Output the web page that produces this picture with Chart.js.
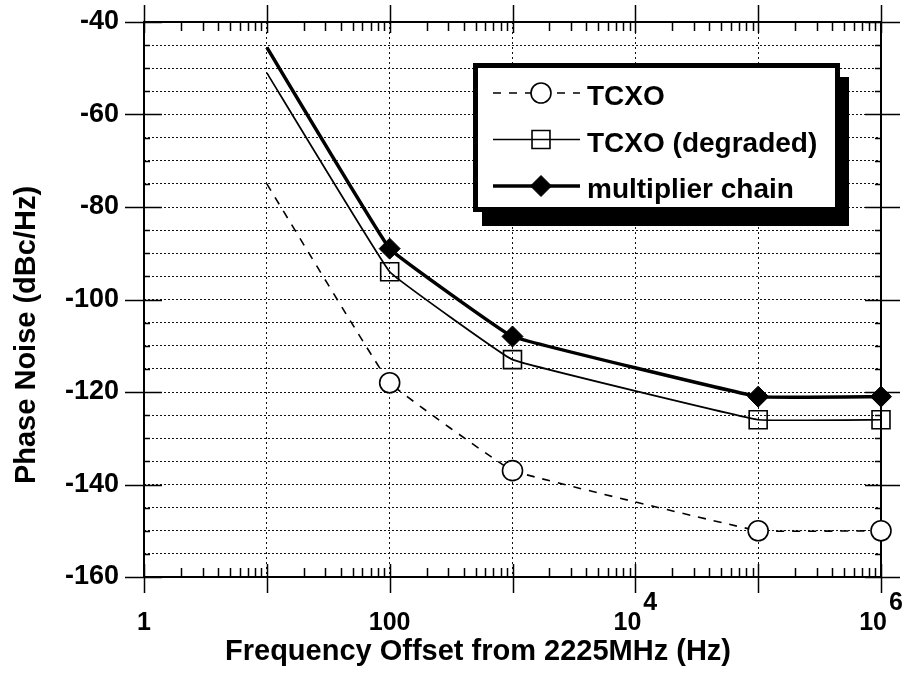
<!DOCTYPE html>
<html lang="en">
<head>
<meta charset="utf-8">
<title>Phase Noise vs Frequency Offset</title>
<script src="https://cdn.jsdelivr.net/npm/chart.js@4.4.1/dist/chart.umd.min.js"></script>
<style>
    html, body { margin: 0; padding: 0; background: #ffffff; }
    canvas { display: block; }
</style>
</head>
<body>
<canvas id="noiseChart" width="903" height="683"></canvas>
<script>
// Offset frequencies in Hz (first point only starts each curve, no marker there)
const offsets = [10, 100, 1000, 100000, 1000000];

// Phase noise in dBc/Hz
const tcxoNoise = [-75, -118, -137, -150, -150];
const degradedNoise = [-51, -94, -113, -126, -126];
const chainNoise = [-45.5, -89, -108, -121, -121];

const seriesLabels = ['TCXO', 'TCXO (degraded)', 'multiplier chain'];

// Axis ticks and labels
const decades = [1, 10, 100, 1e3, 1e4, 1e5, 1e6];
const xLabelValues = [1, 100, 1e4, 1e6];
const xLabelBase = ['1', '100', '10', '10'];
const xLabelExp = ['', '', '4', '6'];
const yMin = -160;
const yMax = -40;
const yStep = 5;
const yLabelStep = 20;

const xTitle = 'Frequency Offset from 2225MHz (Hz)';
const yTitle = 'Phase Noise (dBc/Hz)';

const FONT = '"Liberation Sans", Arial, Helvetica, sans-serif';

function points(values) {
    return offsets.map((x, i) => ({ x: x, y: values[i] }));
}

// Marker radius per point, nothing drawn on the starting point
function markerSizes(r) {
    return offsets.map((x, i) => (i === 0 ? 0 : r));
}

// Box frame with log ticks on top/bottom and dB ticks on left/right
const axisFrame = {
    id: 'axisFrame',
    beforeDatasetsDraw(chart) {
        const { ctx, chartArea: a, scales: { x, y } } = chart;
        ctx.save();
        ctx.strokeStyle = '#000';
        ctx.lineWidth = 2;
        ctx.strokeRect(a.left, a.top, a.right - a.left, a.bottom - a.top);

        ctx.lineWidth = 1.5;
        ctx.beginPath();
        const seg = (x1, y1, x2, y2) => { ctx.moveTo(x1, y1); ctx.lineTo(x2, y2); };
        decades.forEach(d => {
            const px = Math.round(x.getPixelForValue(d)) + 0.5;
            seg(px, a.bottom - 13, px, a.bottom + 16);
            seg(px, a.top - 17, px, a.top + 11);
            if (d < 1e6) {
                for (let m = 2; m <= 9; m++) {
                    const mx = Math.round(x.getPixelForValue(d * m)) + 0.5;
                    seg(mx, a.bottom - 9, mx, a.bottom);
                    seg(mx, a.top, mx, a.top + 9);
                }
            }
        });
        for (let v = yMin; v <= yMax; v += yStep) {
            const py = Math.round(y.getPixelForValue(v)) + 0.5;
            if (v % yLabelStep === 0) {
                seg(a.left - 19, py, a.left + 18, py);
                seg(a.right - 16, py, a.right + 19, py);
            } else {
                seg(a.left, py, a.left + 6, py);
                seg(a.right - 6, py, a.right, py);
            }
        }
        ctx.stroke();
        ctx.restore();
    }
};

// Decade labels with raised exponents, and both axis titles
const axisText = {
    id: 'axisText',
    afterDraw(chart) {
        const { ctx, chartArea: a, scales: { x } } = chart;
        ctx.save();
        ctx.fillStyle = '#000';
        ctx.textBaseline = 'alphabetic';
        ctx.textAlign = 'left';
        ctx.font = 'bold 25px ' + FONT;
        xLabelValues.forEach((v, i) => {
            const px = x.getPixelForValue(v);
            const base = ctx.measureText(xLabelBase[i]);
            const exp = xLabelExp[i] ? ctx.measureText(xLabelExp[i]) : null;
            const gap = exp ? 2 : 0;
            const total = base.width + gap + (exp ? exp.width : 0);
            const left = px - total / 2;
            ctx.fillText(xLabelBase[i], left, a.bottom + 53);
            if (exp) {
                ctx.fillText(xLabelExp[i], left + base.width + gap, a.bottom + 33);
            }
        });

        ctx.font = 'bold 29px ' + FONT;
        ctx.textAlign = 'center';
        ctx.fillText(xTitle, 478, 660);

        ctx.translate(35, 335);
        ctx.rotate(-Math.PI / 2);
        ctx.fillText(yTitle, 0, 0);
        ctx.restore();
    }
};

// Framed legend with a heavy drop shadow
const shadowLegend = {
    id: 'shadowLegend',
    afterDraw(chart) {
        const { ctx } = chart;
        const box = { x: 473, y: 63, w: 367, h: 149 };
        ctx.save();
        ctx.fillStyle = '#000';
        ctx.fillRect(box.x + 9, box.y + 14, box.w, box.h);
        ctx.fillStyle = '#fff';
        ctx.fillRect(box.x, box.y, box.w, box.h);
        ctx.strokeStyle = '#000';
        ctx.lineWidth = 5;
        ctx.strokeRect(box.x + 2.5, box.y + 2.5, box.w - 5, box.h - 5);

        chart.data.datasets.forEach((ds, i) => {
            const cy = 93 + i * 46.5;
            ctx.strokeStyle = '#000';
            ctx.lineWidth = ds.borderWidth;
            ctx.setLineDash(ds.borderDash || []);
            ctx.beginPath();
            ctx.moveTo(493, cy);
            ctx.lineTo(580, cy);
            ctx.stroke();
            ctx.setLineDash([]);

            ctx.fillStyle = ds.pointBackgroundColor;
            ctx.lineWidth = ds.pointBorderWidth;
            Chart.helpers.drawPoint(ctx, {
                pointStyle: ds.pointStyle,
                rotation: 0,
                radius: ds.pointRadius[1],
                borderWidth: ds.pointBorderWidth
            }, 541, cy);

            ctx.fillStyle = '#000';
            ctx.font = 'bold 28px ' + FONT;
            ctx.textAlign = 'left';
            ctx.textBaseline = 'alphabetic';
            ctx.fillText(ds.label, 587, cy + 12);
        });
        ctx.restore();
    }
};

const ctx = document.getElementById('noiseChart').getContext('2d');

new Chart(ctx, {
    type: 'line',
    data: {
        datasets: [
            {
                label: seriesLabels[0],
                data: points(tcxoNoise),
                borderColor: '#000',
                borderWidth: 1.6,
                borderDash: [8, 8],
                pointStyle: 'circle',
                pointRadius: markerSizes(10),
                pointBackgroundColor: '#fff',
                pointBorderColor: '#000',
                pointBorderWidth: 1.6
            },
            {
                label: seriesLabels[1],
                data: points(degradedNoise),
                borderColor: '#000',
                borderWidth: 1.7,
                pointStyle: 'rect',
                pointRadius: markerSizes(12.7),
                pointBackgroundColor: 'rgba(0,0,0,0)',
                pointBorderColor: '#000',
                pointBorderWidth: 1.6
            },
            {
                label: seriesLabels[2],
                data: points(chainNoise),
                borderColor: '#000',
                borderWidth: 3.5,
                pointStyle: 'rectRot',
                pointRadius: markerSizes(10.5),
                pointBackgroundColor: '#000',
                pointBorderColor: '#000',
                pointBorderWidth: 1
            }
        ]
    },
    options: {
        responsive: false,
        animation: false,
        clip: false,
        tension: 0.06,
        layout: { padding: { left: 0, top: 22, right: 22, bottom: 0 } },
        plugins: {
            legend: { display: false },
            tooltip: { enabled: false }
        },
        scales: {
            x: {
                type: 'logarithmic',
                min: 1,
                max: 1e6,
                afterBuildTicks: scale => { scale.ticks = decades.map(v => ({ value: v })); },
                afterFit: scale => { scale.height = 683 - 577; },
                ticks: { display: false },
                grid: { color: '#111', lineWidth: 1, drawTicks: false },
                border: { display: false, dash: [2, 3] }
            },
            y: {
                min: yMin,
                max: yMax,
                afterFit: scale => {
                    scale.width = 144;
                    // labels may hang over the ends, the layout padding already covers them
                    scale.paddingTop = 0;
                    scale.paddingBottom = 0;
                },
                ticks: {
                    stepSize: yStep,
                    autoSkip: false,
                    padding: 25,
                    color: '#000',
                    font: { family: FONT, size: 27, weight: 'bold' },
                    callback: v => (Math.round(v) % yLabelStep === 0 ? String(Math.round(v)) : '')
                },
                grid: { color: '#111', lineWidth: 1, drawTicks: false },
                border: { display: false, dash: [2, 2] }
            }
        }
    },
    plugins: [axisFrame, axisText, shadowLegend]
});
</script>
</body>
</html>
